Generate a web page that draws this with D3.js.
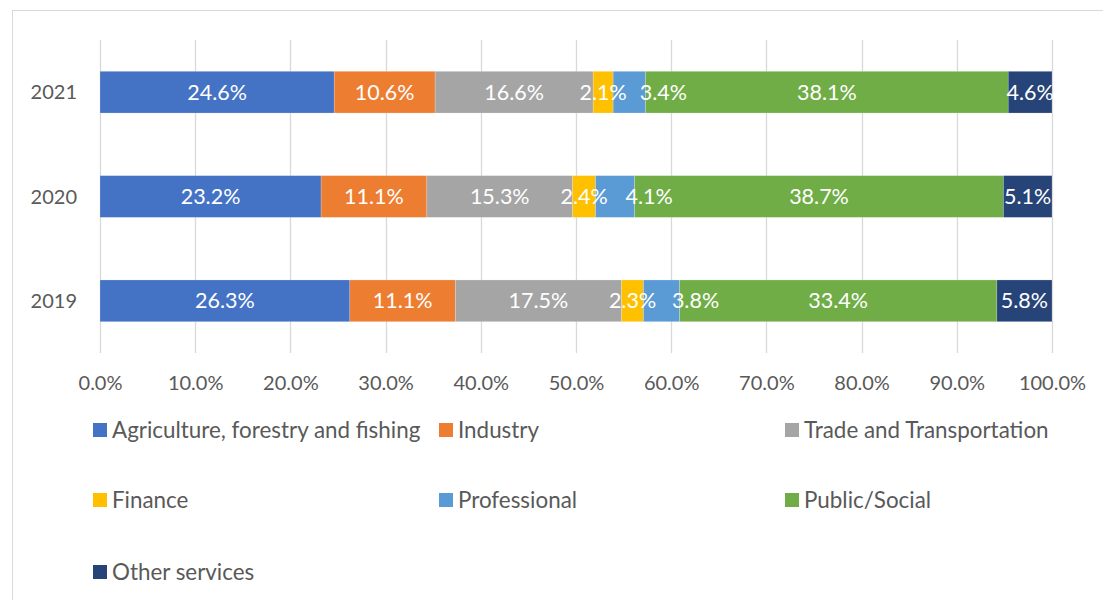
<!DOCTYPE html>
<html>
<head>
<meta charset="utf-8">
<script src="https://cdn.jsdelivr.net/npm/d3@7"></script>
<style>
  html, body { margin: 0; padding: 0; background: #fff; }
  svg { display: block; }
</style>
</head>
<body>
<div id="chart"></div>
<script>
// Employment share by sector, 100% stacked per year
const years = ["2021", "2020", "2019"];
const sectors = [
  "Agriculture, forestry and fishing",
  "Industry",
  "Trade and Transportation",
  "Finance",
  "Professional",
  "Public/Social",
  "Other services"
];
const colors = ["#4472C4", "#ED7D31", "#A5A5A5", "#FFC000", "#5B9BD5", "#70AD47", "#264478"];

// Shares (%) per sector, in the order of `years`
const agriculture = [24.6, 23.2, 26.3];
const industry    = [10.6, 11.1, 11.1];
const trade       = [16.6, 15.3, 17.5];
const finance     = [2.1, 2.4, 2.3];
const professional= [3.4, 4.1, 3.8];
const publicSocial= [38.1, 38.7, 33.4];
const otherServ   = [4.6, 5.1, 5.8];

const tickValues = [0, 0.1, 0.2, 0.3, 0.4, 0.5, 0.6, 0.7, 0.8, 0.9, 1.0];

const seriesValues = [agriculture, industry, trade, finance, professional, publicSocial, otherServ];

const W = 1103, H = 600;
const FONT = "Lato, 'Open Sans', sans-serif";
const TEXT = "#595959";

const svg = d3.select("#chart").append("svg")
  .attr("width", W).attr("height", H);

// chart frame
svg.append("rect")
  .attr("x", 12.5).attr("y", 10.5)
  .attr("width", 1300).attr("height", 800)
  .attr("fill", "#fff").attr("stroke", "#d9d9d9").attr("stroke-width", 1);

const plot = { left: 100, right: 1052, top: 40, bottom: 353 };

const x = d3.scaleLinear().domain([0, 1]).range([plot.left, plot.right]);
const y = d3.scaleBand().domain(years).range([plot.top, plot.bottom])
  .paddingInner(0.6).paddingOuter(0.3);

// vertical gridlines
svg.append("g").selectAll("line").data(tickValues).join("line")
  .attr("x1", d => Math.round(x(d)) + 0.5).attr("x2", d => Math.round(x(d)) + 0.5)
  .attr("y1", plot.top).attr("y2", plot.bottom)
  .attr("stroke", "#d9d9d9").attr("stroke-width", 1.3);

// x axis labels
const xAxis = d3.axisBottom(x).tickValues(tickValues)
  .tickFormat(d => (d * 100).toFixed(1) + "%").tickSize(0).tickPadding(0);
const gx = svg.append("g").attr("transform", `translate(0,${plot.bottom + 37})`).call(xAxis);
gx.select(".domain").remove();
gx.selectAll("text").attr("fill", TEXT).attr("font-family", FONT).attr("font-size", 20)
  .attr("dy", "0");

// y axis labels
const yAxis = d3.axisLeft(y).tickSize(0).tickPadding(0);
const gy = svg.append("g").attr("transform", `translate(${plot.left - 23},0)`).call(yAxis);
gy.select(".domain").remove();
gy.selectAll("text").attr("fill", TEXT).attr("font-family", FONT).attr("font-size", 20)
  .attr("dy", "0.35em");

// stacked, normalised to the year total
const rows = years.map((yr, i) => {
  const row = { year: yr };
  sectors.forEach((s, k) => { row[s] = seriesValues[k][i]; });
  return row;
});
const stack = d3.stack().keys(sectors).offset(d3.stackOffsetExpand);
const layers = stack(rows);

const gl = svg.append("g");
layers.forEach((layer, k) => {
  const g = gl.append("g").attr("fill", colors[k]);
  g.selectAll("rect").data(layer).join("rect")
    .attr("x", d => x(d[0]))
    .attr("y", d => y(d.data.year))
    .attr("width", d => x(d[1]) - x(d[0]))
    .attr("height", y.bandwidth())
    .attr("stroke", "#fff").attr("stroke-width", 0.5).attr("stroke-opacity", 0.4);
});

// value labels; the Professional labels sit nudged right of their narrow segment
const labelNudge = { "Professional": 34 };
layers.forEach((layer, k) => {
  const dx = labelNudge[layer.key] || 0;
  gl.append("g").selectAll("text").data(layer).join("text")
    .attr("x", d => (x(d[0]) + x(d[1])) / 2 + dx)
    .attr("y", d => y(d.data.year) + y.bandwidth() / 2)
    .attr("dy", "0.35em")
    .attr("text-anchor", "middle")
    .attr("fill", "#fff")
    .attr("font-family", FONT).attr("font-size", 21.5)
    .text(d => d.data[layer.key].toFixed(1) + "%");
});

// legend
const legendCols = [93, 439, 785];
const legendRows = [430, 500, 572];
const lg = svg.append("g");
sectors.forEach((s, k) => {
  const cx = legendCols[k % 3], cy = legendRows[Math.floor(k / 3)];
  const item = lg.append("g").attr("transform", `translate(${cx},${cy})`);
  item.append("rect").attr("x", 0).attr("y", -7).attr("width", 14).attr("height", 14)
    .attr("fill", colors[k]);
  item.append("text").attr("x", 19).attr("y", 0).attr("dy", "0.35em")
    .attr("fill", TEXT).attr("font-family", FONT).attr("font-size", 22.4).text(s);
});
</script>
</body>
</html>
